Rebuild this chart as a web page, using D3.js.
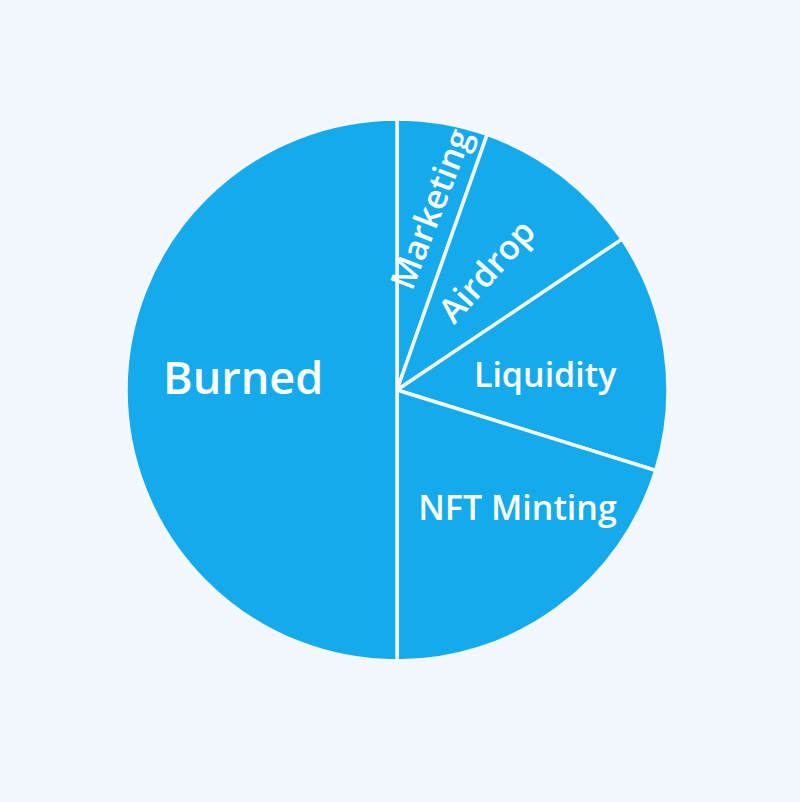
<!DOCTYPE html>
<html><head><meta charset="utf-8">
<script src="https://cdn.jsdelivr.net/npm/d3@7"></script>
<style>html,body{margin:0;padding:0;background:#f3f7fe;}</style>
</head><body>
<svg id="c" width="800" height="802"></svg>
<script>
const categories = ["Marketing", "Airdrop", "Liquidity", "NFT Minting", "Burned"];
const values = [5.4, 10.2, 14.2, 20.2, 50];

const W = 800, H = 802, cx = 397, cy = 390, R = 271;
const svg = d3.select("#c");
svg.append("rect").attr("width", W).attr("height", H).attr("fill", "#f3f7fe");
const g = svg.append("g").attr("transform", `translate(${cx},${cy})`);

const data = categories.map((c, i) => ({ name: c, value: values[i] }));
const pie = d3.pie().value(d => d.value).sort(null);
const arc = d3.arc().innerRadius(0).outerRadius(R);
const arcs = pie(data);

g.selectAll("path").data(arcs).join("path")
  .attr("d", arc)
  .attr("fill", "#14aaec")
  .attr("stroke", "#f3f7fe")
  .attr("stroke-width", 3.5)
  .attr("stroke-linejoin", "round");

// label layout (style, in code): radius fraction, rotation, size
const labelStyle = {
  "Marketing":   { r: 0.68, rot: -69, size: 34, da: 0.01 },
  "Airdrop":     { r: 0.55, rot: -48, size: 34, da: -0.02 },
  "Liquidity":   { r: 0.55, rot: 0, size: 34, da: 0.035 },
  "NFT Minting": { r: 0.62, rot: 0, size: 34, da: -0.165 },
  "Burned":      { r: 0.57, rot: 0, size: 45, da: 0.09 }
};

g.selectAll("text").data(arcs).join("text")
  .attr("transform", d => {
    const s = labelStyle[d.data.name];
    const a = (d.startAngle + d.endAngle) / 2 + s.da;
    const x = Math.sin(a) * R * s.r, y = -Math.cos(a) * R * s.r;
    return `translate(${x},${y}) rotate(${s.rot})`;
  })
  .attr("text-anchor", "middle")
  .attr("dominant-baseline", "central")
  .attr("font-family", "'Open Sans', 'Noto Sans', sans-serif")
  .attr("font-weight", 600)
  .attr("font-size", d => labelStyle[d.data.name].size)
  .attr("fill", "#ffffff")
  .text(d => d.data.name);
</script>
</body></html>
